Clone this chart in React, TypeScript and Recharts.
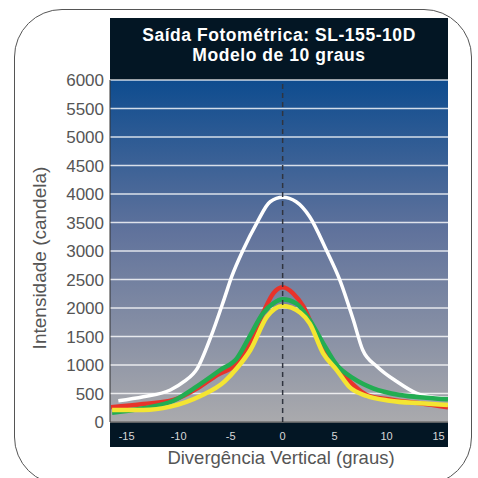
import React from 'react';
import { LineChart, Line, XAxis, YAxis, CartesianGrid, ReferenceLine, Label } from 'recharts';

const xTicks = [-15, -10, -5, 0, 5, 10, 15];
const yTicks = [0, 500, 1000, 1500, 2000, 2500, 3000, 3500, 4000, 4500, 5000, 5500, 6000];

const whiteAngles = [-15.8, -13.4, -10.8, -9.5, -8.2, -6.9, -5.6, -4.9, -3.8, -2.5, -1.2, 0, 1.3, 2.6, 4.2, 5.5, 6.8, 7.7, 9.1, 11.0, 12.9, 14.5, 15.9];
const whiteValues = [373, 444, 561, 707, 942, 1496, 2170, 2549, 3017, 3485, 3864, 3941, 3864, 3601, 3017, 2490, 1789, 1263, 970, 707, 503, 433, 415];

const redAngles = [-16.5, -13.4, -10.5, -8.2, -6.3, -4.4, -3.2, -1.9, -0.9, 0, 1.0, 2.0, 2.9, 4.2, 5.5, 6.8, 8.1, 10.6, 13.2, 15.9];
const redValues = [258, 316, 386, 591, 824, 1029, 1380, 1906, 2257, 2363, 2257, 2022, 1672, 1205, 912, 649, 474, 386, 328, 258];

const greenAngles = [-16.4, -13.4, -10.5, -8.2, -6.0, -4.4, -3.1, -1.9, -0.9, 0, 1.3, 2.6, 3.9, 5.2, 6.8, 8.7, 11.3, 13.8, 15.9];
const greenValues = [163, 240, 374, 631, 912, 1117, 1526, 1906, 2082, 2152, 2082, 1789, 1380, 1000, 766, 591, 474, 427, 398];

const yellowAngles = [-16.4, -13.4, -10.8, -7.9, -5.6, -4.4, -3.1, -1.5, 0, 1.7, 2.6, 3.9, 5.2, 6.4, 8.1, 10.3, 13.2, 15.9];
const yellowValues = [210, 210, 269, 456, 707, 942, 1263, 1847, 2035, 1917, 1731, 1205, 912, 619, 456, 374, 328, 298];

const toPoints = (a: number[], v: number[]) => a.map((x, i) => ({ x, y: v[i] }));

const whiteData = toPoints(whiteAngles, whiteValues);
const redData = toPoints(redAngles, redValues);
const greenData = toPoints(greenAngles, greenValues);
const yellowData = toPoints(yellowAngles, yellowValues);

const FONT = '"Liberation Sans", Arial, Helvetica, sans-serif';

export default function App() {
  return (
    <div style={{ position: 'absolute', left: 0, top: 0, width: 478, height: 478, overflow: 'hidden', fontFamily: FONT, background: '#fff' }}>
      <div style={{ position: 'absolute', left: 14, top: 9, width: 458, height: 476, border: '1.3px solid #555', borderRadius: 48, boxSizing: 'border-box' }} />
      <div style={{ position: 'absolute', left: 110, top: 18, width: 338, height: 62, background: '#031624', color: '#fff', fontWeight: 'bold', fontSize: 17.5, letterSpacing: 0.55, lineHeight: '20px', textAlign: 'center', paddingTop: 7, boxSizing: 'border-box' }}>
        <div>Saída Fotométrica: SL-155-10D</div>
        <div>Modelo de 10 graus</div>
      </div>
      <div style={{ position: 'absolute', left: 110, top: 421, width: 338, height: 26, background: '#031624' }} />
      <div style={{ position: 'absolute', left: 0, top: 0 }}>
        <LineChart width={478} height={478} margin={{ top: 80, right: 30, bottom: 0, left: 0 }}>
          <defs>
            <linearGradient id="bgGrad" x1="0" y1="0" x2="0" y2="1">
              <stop offset="0%" stopColor="#0e4c8f" />
              <stop offset="45%" stopColor="#61739c" />
              <stop offset="100%" stopColor="#aaaaad" />
            </linearGradient>
          </defs>
          <CartesianGrid vertical={false} stroke="#ffffff" strokeOpacity={0.8} strokeWidth={1.5} fill="url(#bgGrad)" fillOpacity={1} />
          <XAxis
            dataKey="x"
            type="number"
            domain={[-16.6, 15.9]}
            ticks={xTicks}
            allowDataOverflow
            height={56}
            tickLine={false}
            tickSize={0}
            tickMargin={10}
            axisLine={{ stroke: '#222', strokeWidth: 1 }}
            tick={{ fill: '#d8d8d8', fontSize: 11 }}
          >
            <Label content={() => (
              <text x={281} y={464} textAnchor="middle" fontSize={18.5} fill="#555" fontFamily={FONT}>Divergência Vertical (graus)</text>
            )} />
          </XAxis>
          <YAxis
            type="number"
            domain={[0, 6000]}
            ticks={yTicks}
            interval={0}
            width={110}
            tickLine={false}
            tickSize={0}
            tickMargin={6}
            axisLine={{ stroke: '#333', strokeWidth: 1 }}
            tick={{ fill: '#555', fontSize: 17 }}
          >
            <Label content={() => (
              <text transform="translate(39,258) rotate(-90)" textAnchor="middle" dominantBaseline="central" fontSize={19} fill="#555" fontFamily={FONT}>Intensidade (candela)</text>
            )} />
          </YAxis>
          <Line data={whiteData} dataKey="y" type="monotone" stroke="#ffffff" strokeWidth={3.5} dot={false} isAnimationActive={false} />
          <Line data={redData} dataKey="y" type="monotone" stroke="#e8332a" strokeWidth={4.5} dot={false} isAnimationActive={false} />
          <Line data={greenData} dataKey="y" type="monotone" stroke="#22ad52" strokeWidth={4.5} dot={false} isAnimationActive={false} />
          <Line data={yellowData} dataKey="y" type="monotone" stroke="#f4e532" strokeWidth={4.5} dot={false} isAnimationActive={false} />
          <ReferenceLine x={0} stroke="#30343f" strokeWidth={1.5} strokeDasharray="5 4" />
        </LineChart>
      </div>
    </div>
  );
}
